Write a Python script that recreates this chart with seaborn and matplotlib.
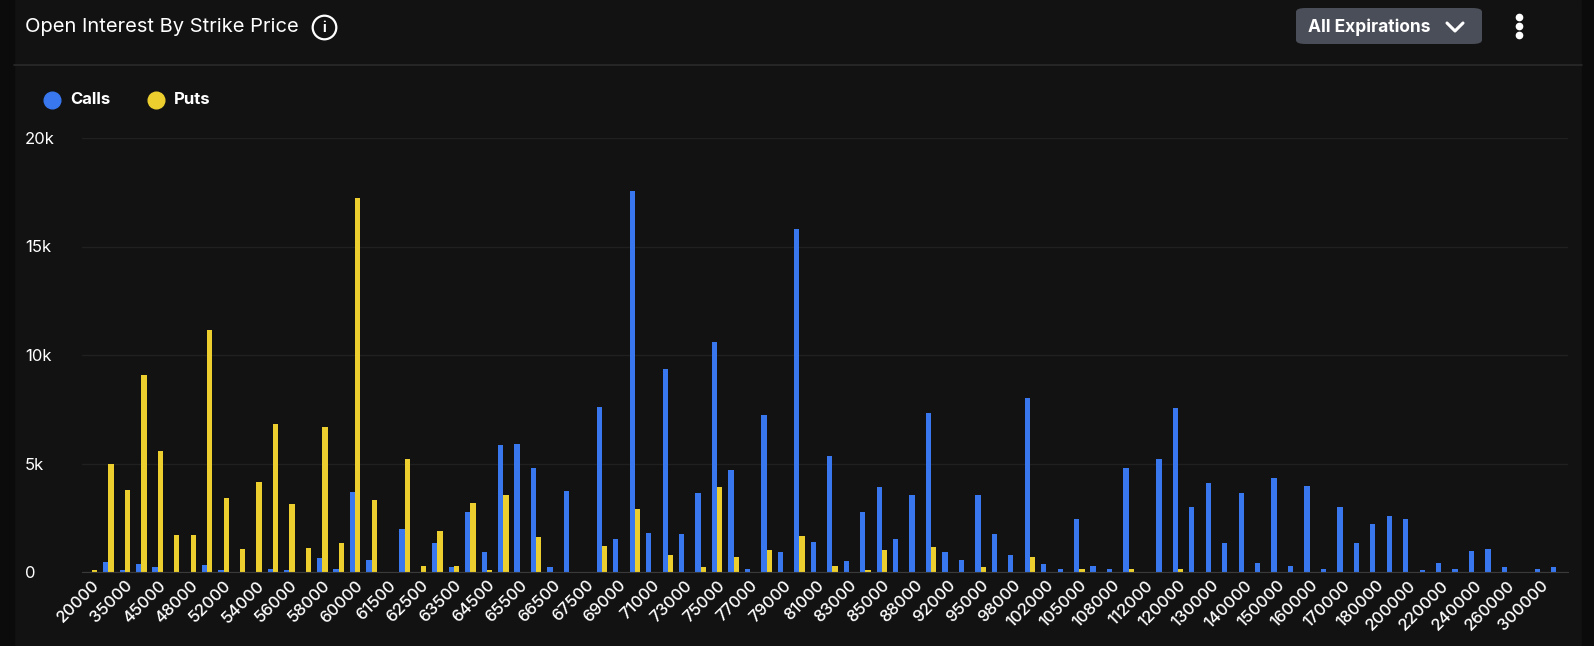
import pandas as pd
import matplotlib.pyplot as plt
import seaborn as sns
from matplotlib.patches import FancyBboxPatch, Rectangle

# Strike prices (every other one is labelled on the axis)
strikes = [20000, 30000, 35000, 40000, 45000, 47000, 48000, 50000, 52000, 53000,
           54000, 55000, 56000, 57000, 58000, 59000, 60000, 61000, 61500, 62000,
           62500, 63000, 63500, 64000, 64500, 65000, 65500, 66000, 66500, 67000,
           67500, 68000, 69000, 70000, 71000, 72000, 73000, 74000, 75000, 76000,
           77000, 78000, 79000, 80000, 81000, 82000, 83000, 84000, 85000, 86000,
           88000, 90000, 92000, 94000, 95000, 96000, 98000, 100000, 102000, 104000,
           105000, 106000, 108000, 110000, 112000, 115000, 120000, 125000, 130000, 135000,
           140000, 145000, 150000, 155000, 160000, 165000, 170000, 175000, 180000, 190000,
           200000, 210000, 220000, 230000, 240000, 250000, 260000, 280000, 300000, 350000]

calls = [0, 460, 80, 380, 230, 0, 0, 300, 80, 0,
         0, 150, 80, 0, 650, 150, 3700, 550, 0, 2000,
         0, 1340, 230, 2780, 900, 5850, 5900, 4780, 230, 3750,
         0, 7600, 1540, 17540, 1820, 9340, 1740, 3620, 10600, 4720,
         150, 7220, 900, 15800, 1400, 5340, 490, 2780, 3900, 1540,
         3540, 7350, 900, 570, 3540, 1740, 770, 8030, 350, 150,
         2430, 280, 150, 4780, 0, 5200, 7550, 2980, 4090, 1340,
         3620, 430, 4310, 280, 3950, 150, 2980, 1340, 2230, 2580,
         2430, 80, 430, 150, 980, 1050, 220, 0, 150, 220]

puts = [80, 5000, 3770, 9080, 5570, 1690, 1690, 11150, 3420, 1060,
        4150, 6800, 3120, 1120, 6680, 1340, 17230, 3340, 0, 5200,
        280, 1880, 280, 3200, 80, 3540, 0, 1600, 0, 0,
        0, 1180, 0, 2920, 0, 770, 0, 230, 3900, 690,
        0, 1000, 0, 1680, 0, 290, 0, 80, 1000, 0,
        0, 1140, 0, 0, 220, 0, 0, 690, 0, 0,
        120, 0, 0, 120, 0, 0, 120, 0, 0, 0,
        0, 0, 0, 0, 0, 0, 0, 0, 0, 0,
        0, 0, 0, 0, 0, 0, 0, 0, 0, 0]

BG = "#121212"
CALL_C = "#3877ee"
PUT_C = "#eccf2e"

df = pd.concat([
    pd.DataFrame({"strike": strikes, "oi": calls, "type": "Calls"}),
    pd.DataFrame({"strike": strikes, "oi": puts, "type": "Puts"}),
])

sns.set_style("dark")
plt.rcParams["font.family"] = ["Inter", "DejaVu Sans"]

W, H = 1594, 646
fig = plt.figure(figsize=(W / 100, H / 100), dpi=100)
fig.patch.set_facecolor(BG)
# darker page edges left and right of the panel
fig.add_artist(Rectangle((0, 0), 14 / W, 1, transform=fig.transFigure, color="#0b0b0b", zorder=-1))
fig.add_artist(Rectangle((1582 / W, 0), 12 / W, 1, transform=fig.transFigure, color="#0b0b0b", zorder=-1))
fig.add_artist(plt.Line2D([14 / W, 1582 / W], [1 - 65 / H] * 2, color="#2a2a2a", lw=1.2,
                          transform=fig.transFigure))

ax = fig.add_axes([82 / W, 1 - 572 / H, (1568 - 82) / W, (572 - 138) / H])
ax.set_facecolor(BG)
sns.barplot(data=df, x="strike", y="oi", hue="type", order=strikes, hue_order=["Calls", "Puts"],
            palette=[CALL_C, PUT_C], width=0.64, gap=0, legend=False, ax=ax,
            saturation=1, errorbar=None, edgecolor="none")

ax.set_xlim(-0.6, len(strikes) - 0.3)
ax.set_ylim(0, 20000)
ax.set_yticks([0, 5000, 10000, 15000, 20000])
ax.set_yticklabels(["0", "5k", "10k", "15k", "20k"])
ax.yaxis.grid(True, color="#202020", lw=1)
ax.xaxis.grid(False)
ax.set_axisbelow(True)
ax.set_xticks(range(0, len(strikes), 2))
ax.set_xticklabels([str(s) for s in strikes[::2]], rotation=45, ha="right", rotation_mode="anchor")
ax.tick_params(axis="x", colors="white", labelsize=12, length=0, pad=4)
ax.tick_params(axis="y", colors="white", labelsize=12, length=0, pad=41)
for lab in ax.get_yticklabels():
    lab.set_horizontalalignment("left")
for lab in ax.get_xticklabels():
    lab.set_fontweight("medium")
ax.set_xlabel("")
ax.set_ylabel("")
for s in ["top", "right", "left"]:
    ax.spines[s].set_visible(False)
ax.spines["bottom"].set_color("#3a3a3a")

# header
fig.text(25 / W, 1 - 27 / H, "Open Interest By Strike Price", color="white", fontsize=14.5,
         va="center", ha="left")
fig.add_artist(plt.Line2D([324 / W], [1 - 27 / H], marker="o", ms=17, mfc="none", mec="white",
                          mew=1.6, transform=fig.transFigure))
fig.text(324 / W, 1 - 27.5 / H, "i", color="white", fontsize=10, weight="bold",
         va="center", ha="center")
fig.patches.append(FancyBboxPatch((1296 / W, 1 - 44 / H), 186 / W, 36 / H,
                                  boxstyle="round,pad=0,rounding_size=0.006", transform=fig.transFigure,
                                  facecolor="#4a4e58", edgecolor="none"))
fig.text(1308 / W, 1 - 27 / H, "All Expirations", color="white", fontsize=12.5, weight="bold",
         va="center", ha="left")
fig.add_artist(plt.Line2D([1447 / W, 1455 / W, 1463 / W], [1 - 23 / H, 1 - 31 / H, 1 - 23 / H],
                          color="white", lw=2.2, transform=fig.transFigure,
                          solid_capstyle="round", solid_joinstyle="round"))
for yy in [17, 26, 35]:
    fig.add_artist(plt.Line2D([1519 / W], [1 - yy / H], marker="o", ms=4.5, color="white",
                              transform=fig.transFigure))

# legend
fig.add_artist(plt.Line2D([52 / W], [1 - 100 / H], marker="o", ms=12, color=CALL_C,
                          transform=fig.transFigure))
fig.text(70 / W, 1 - 100 / H, "Calls", color="white", fontsize=12, weight="bold", va="center")
fig.add_artist(plt.Line2D([156 / W], [1 - 100 / H], marker="o", ms=12, color=PUT_C,
                          transform=fig.transFigure))
fig.text(174 / W, 1 - 100 / H, "Puts", color="white", fontsize=12, weight="bold", va="center")

fig.savefig("out.png", dpi=100, facecolor=fig.get_facecolor())
